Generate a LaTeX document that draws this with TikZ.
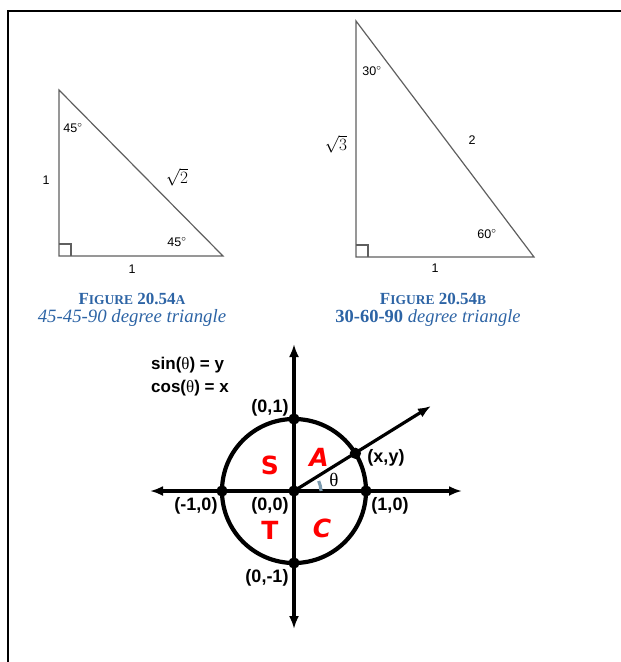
\documentclass[tikz,border=0pt]{standalone}
\usepackage{amsmath}
\usepackage{fontspec}
\setmainfont{DejaVu Sans}
\newfontfamily\capfont{Liberation Serif}
\newfontfamily\trifont{Liberation Sans}
\usetikzlibrary{arrows.meta}
\definecolor{capblue}{RGB}{45,100,165}
\definecolor{arcgray}{RGB}{125,155,175}
\definecolor{trigray}{RGB}{95,95,95}
\tikzset{
  tri/.style={trigray,line width=1.2pt},
  trilabel/.style={font=\trifont\fontsize{12.5}{14}\selectfont,inner sep=0pt},
  capline/.style={capblue,font=\capfont\fontsize{17}{19}\selectfont,inner sep=0pt},
  axis/.style={line width=3.2pt,{Latex[length=13pt,width=10pt]}-{Latex[length=13pt,width=10pt]}},
  dot/.style={circle,fill=black,inner sep=4pt},
  pt/.style={font=\trifont\bfseries\fontsize{18}{20}\selectfont,inner sep=0pt},
  quad/.style={red,font=\bfseries\fontsize{25}{27}\selectfont,inner sep=0pt}
}
\begin{document}
\begin{tikzpicture}[x=1pt,y=-1pt]
\useasboundingbox (0,0) rectangle (621,662);
\draw[line width=2.5pt] (8,662)--(8,11)--(621,11);

\coordinate (L1) at (59,90);
\coordinate (L2) at (59,256);
\coordinate (L3) at (223,256);
\draw[tri] (L1)--(L2)--(L3)--cycle;
\draw[tri] (59,244)--(71,244)--(71,256);
\node[trilabel] (a1) at (73,128) {45$^{\circ}$};
\node[trilabel] (a2) at (177,242) {45$^{\circ}$};
\node[trilabel] (s1) at (46,180) {1};
\node[trilabel] (s2) at (132,269) {1};
\node[trilabel,font=\fontsize{17}{18}\selectfont] (s3) at (177,177) {$\sqrt{2}$};
\node[capline] (ca1) at (132,299) {\bfseries F{\fontsize{13.5}{14}\selectfont IGURE} 20.54{\fontsize{13.5}{14}\selectfont A}};
\node[capline,font=\capfont\fontsize{18.8}{20}\selectfont] (ca2) at (132,318) {\itshape 45-45-90 degree triangle};

\coordinate (R1) at (356,21);
\coordinate (R2) at (356,257);
\coordinate (R3) at (534,257);
\draw[tri] (R1)--(R2)--(R3)--cycle;
\draw[tri] (356,245)--(368,245)--(368,257);
\node[trilabel] (b1) at (372,71) {30$^{\circ}$};
\node[trilabel] (b2) at (487,234) {60$^{\circ}$};
\node[trilabel,font=\fontsize{17}{18}\selectfont] (t1) at (336,144) {$\sqrt{3}$};
\node[trilabel] (t2) at (472,140) {2};
\node[trilabel] (t3) at (435,268) {1};
\node[capline] (cb1) at (433,299) {\bfseries F{\fontsize{13.5}{14}\selectfont IGURE} 20.54{\fontsize{13.5}{14}\selectfont B}};
\node[capline,font=\capfont\fontsize{18.5}{20}\selectfont] (cb2) at (428,318) {\bfseries 30-60-90 \mdseries\itshape degree triangle};

\coordinate (O) at (294,491);
\coordinate (P) at (355.4,453.3);
\coordinate (Q) at (431,406);
\draw[line width=4.2pt] (O) circle (72pt);
\draw[axis] (150,491)--(462,491);
\draw[axis] (294,344)--(294,629);
\draw[line width=3.2pt,-{Latex[length=13pt,width=10pt]}] (O)--(Q);
\draw[arcgray,line width=3.2pt] (321,491) arc[start angle=2,end angle=24,radius=27pt];
\node[dot] (d0) at (O) {};
\node[dot] (dp) at (P) {};
\node[dot] (d1) at (366,491) {};
\node[dot] (d2) at (222,491) {};
\node[dot] (d3) at (294,419) {};
\node[dot] (d4) at (294,563) {};

\node[pt,anchor=west,font=\trifont\bfseries\fontsize{17}{19}\selectfont] (sn) at (151,365) {sin({\capfont\mdseries θ}) = y};
\node[pt,anchor=west,font=\trifont\bfseries\fontsize{17}{19}\selectfont] (cs) at (151,388) {cos({\capfont\mdseries θ}) = x};
\node[pt] (p1) at (270,408) {(0,1)};
\node[pt] (p2) at (386,458) {(x,y)};
\node[pt] (p3) at (196,506) {(-1,0)};
\node[pt] (p4) at (270,506) {(0,0)};
\node[pt] (p5) at (390,506) {(1,0)};
\node[pt] (p6) at (267,578) {(0,-1)};
\node[font=\capfont\fontsize{19}{20}\selectfont,inner sep=0pt] (th) at (334,480) {θ};

\node[quad] (qs) at (270,465) {S};
\node[quad] (qa) at (319,457) {\itshape A};
\node[quad] (qt) at (270,530) {T};
\node[quad] (qc) at (322,528) {\itshape C};
\end{tikzpicture}
\end{document}
